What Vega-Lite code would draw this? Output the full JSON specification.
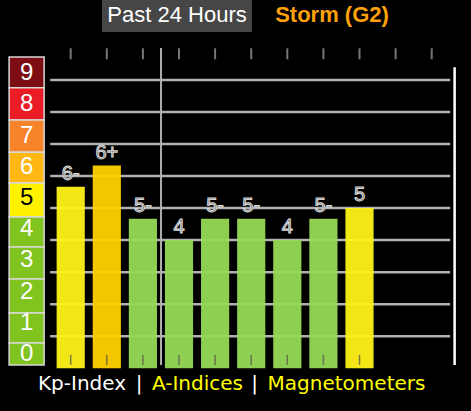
{
  "$schema": "https://vega.github.io/schema/vega-lite/v6.json",
  "background": "black",
  "padding": {"left": 8, "top": 0, "right": 16, "bottom": 18},
  "config": {"view": {"stroke": null}, "font": "Liberation Sans"},
  "datasets": {
    "kp": [
      {"slot": 1, "kp": 5.67, "label": "6-", "storm": "G1"},
      {"slot": 2, "kp": 6.33, "label": "6+", "storm": "G2"},
      {"slot": 3, "kp": 4.67, "label": "5-", "storm": "below G1"},
      {"slot": 4, "kp": 4.0, "label": "4", "storm": "below G1"},
      {"slot": 5, "kp": 4.67, "label": "5-", "storm": "below G1"},
      {"slot": 6, "kp": 4.67, "label": "5-", "storm": "below G1"},
      {"slot": 7, "kp": 4.0, "label": "4", "storm": "below G1"},
      {"slot": 8, "kp": 4.67, "label": "5-", "storm": "below G1"},
      {"slot": 9, "kp": 5.0, "label": "5", "storm": "G1"}
    ],
    "slots": [
      {"slot": 1}, {"slot": 2}, {"slot": 3}, {"slot": 4}, {"slot": 5}, {"slot": 6},
      {"slot": 7}, {"slot": 8}, {"slot": 9}, {"slot": 10}, {"slot": 11}
    ],
    "levels": [
      {"kp": 1}, {"kp": 2}, {"kp": 3}, {"kp": 4}, {"kp": 5},
      {"kp": 6}, {"kp": 7}, {"kp": 8}, {"kp": 9}
    ],
    "scale": [
      {"level": 9, "lo": 8.53, "hi": 9.52},
      {"level": 8, "lo": 7.5, "hi": 8.53},
      {"level": 7, "lo": 6.47, "hi": 7.5},
      {"level": 6, "lo": 5.48, "hi": 6.47},
      {"level": 5, "lo": 4.39, "hi": 5.48},
      {"level": 4, "lo": 3.43, "hi": 4.39},
      {"level": 3, "lo": 2.4, "hi": 3.43},
      {"level": 2, "lo": 1.31, "hi": 2.4},
      {"level": 1, "lo": 0.35, "hi": 1.31},
      {"level": 0, "lo": -0.35, "hi": 0.35}
    ],
    "head": [{"t": "Past 24 Hours"}, {"t": "Storm (G2)"}]
  },
  "spacing": 15,
  "vconcat": [
    {
      "width": 441,
      "height": 32,
      "data": {"name": "head"},
      "encoding": {
        "x": {"field": "t", "type": "nominal",
          "scale": {"domain": ["Past 24 Hours", "Storm (G2)"], "paddingInner": 0.0323, "paddingOuter": 0.4389, "align": 0.684},
          "axis": null}
      },
      "layer": [
        {"transform": [{"filter": {"field": "t", "equal": "Past 24 Hours"}}],
         "mark": {"type": "bar", "color": "#464646"}},
        {"transform": [{"filter": {"field": "t", "equal": "Past 24 Hours"}}],
         "mark": {"type": "text", "color": "white", "fontSize": 22, "font": "Liberation Sans", "baseline": "middle", "dy": -1},
         "encoding": {"text": {"field": "t"}}},
        {"transform": [{"filter": {"field": "t", "equal": "Storm (G2)"}}],
         "mark": {"type": "text", "color": "#ffa10a", "fontSize": 22, "fontWeight": "bold", "font": "Liberation Sans", "baseline": "middle", "dy": -1},
         "encoding": {"text": {"field": "t"}}}
      ]
    },
    {
      "spacing": 4,
      "center": true,
      "vconcat": [
        {
          "spacing": 6,
          "bounds": "flush",
          "resolve": {"scale": {"color": "independent"}},
          "hconcat": [
            {
              "width": 35,
              "height": 317,
              "data": {"name": "scale"},
              "layer": [
                {"mark": {"type": "rect", "stroke": "#d8d8d8", "strokeWidth": 1.5},
                 "encoding": {
                   "y": {"field": "lo", "type": "quantitative", "scale": {"domain": [-0.353, 9.808], "nice": false, "zero": false}, "axis": null},
                   "y2": {"field": "hi"},
                   "color": {"field": "level", "type": "ordinal",
                     "scale": {"domain": [0, 1, 2, 3, 4, 5, 6, 7, 8, 9],
                       "range": ["#81c41f", "#81c41f", "#81c41f", "#81c41f", "#81c41f", "#fff200", "#ffb813", "#f7842a", "#ea1c25", "#7c0d12"]},
                     "legend": null}
                 }},
                {"mark": {"type": "text", "fontSize": 24, "font": "Liberation Sans", "baseline": "middle"},
                 "encoding": {
                   "y": {"field": "level", "type": "quantitative", "axis": null},
                   "text": {"field": "level", "type": "quantitative"},
                   "color": {"condition": {"test": "datum.level === 5", "value": "black"}, "value": "white"}
                 }}
              ]
            },
            {
              "width": 400,
              "height": 317,
              "layer": [
                {
                  "data": {"name": "levels"},
                  "mark": {"type": "rule", "color": "#b0b0b0", "strokeWidth": 2.5},
                  "encoding": {
                    "y": {"field": "kp", "type": "quantitative",
                      "scale": {"domain": [0.1, 10], "nice": false, "zero": false},
                      "axis": null}
                  }
                },
                {
                  "data": {"name": "kp"},
                  "mark": {"type": "bar", "opacity": 0.95},
                  "encoding": {
                    "x": {"field": "slot", "type": "ordinal",
                      "scale": {"domain": [1, 2, 3, 4, 5, 6, 7, 8, 9, 10, 11], "paddingInner": 0.22, "paddingOuter": 0.15, "align": 0.6},
                      "axis": null},
                    "y": {"field": "kp", "type": "quantitative", "axis": null},
                    "color": {"field": "storm", "type": "nominal",
                      "scale": {"domain": ["below G1", "G1", "G2"], "range": ["#96d954", "#fff218", "#ffd200"]},
                      "legend": null}
                  }
                },
                {
                  "data": {"name": "kp"},
                  "mark": {"type": "tick", "orient": "vertical", "color": "#505050", "size": 10, "thickness": 1.5},
                  "encoding": {
                    "x": {"field": "slot", "type": "ordinal", "axis": null},
                    "y": {"datum": 0.26, "axis": null}
                  }
                },
                {
                  "data": {"name": "slots"},
                  "mark": {"type": "tick", "orient": "vertical", "color": "#a8a8a8", "size": 11, "thickness": 2},
                  "encoding": {
                    "x": {"field": "slot", "type": "ordinal", "axis": null},
                    "y": {"datum": 9.82, "axis": null}
                  }
                },
                {
                  "data": {"name": "kp"},
                  "mark": {"type": "text", "baseline": "alphabetic", "dy": -7, "fontSize": 20, "font": "Liberation Sans", "fill": "#666666", "stroke": "#d8d8d8", "strokeWidth": 1},
                  "encoding": {
                    "x": {"field": "slot", "type": "ordinal", "axis": null},
                    "y": {"field": "kp", "type": "quantitative", "axis": null},
                    "text": {"field": "label"}
                  }
                },
                {
                  "data": {"values": [{}]},
                  "mark": {"type": "rule", "color": "#b0b0b0", "strokeWidth": 2, "xOffset": -3.9},
                  "encoding": {
                    "x": {"datum": 4, "type": "ordinal", "bandPosition": 0, "axis": null},
                    "y": {"datum": 10, "axis": null},
                    "y2": {"datum": 0.1}
                  }
                },
                {
                  "data": {"values": [{}]},
                  "mark": {"type": "rule", "color": "white", "strokeWidth": 2.5, "xOffset": 4.5},
                  "encoding": {
                    "x": {"value": "width"},
                    "y": {"datum": 9.4, "axis": null},
                    "y2": {"datum": 0.1}
                  }
                }
              ]
            }
          ]
        },
        {
          "spacing": 0,
          "bounds": "flush",
          "hconcat": [
            {"width": 99, "height": 1, "data": {"values": [{"t": "Kp-Index"}]},
             "mark": {"type": "text", "font": "DejaVu Sans", "fontSize": 20, "color": "white", "baseline": "top"},
             "encoding": {"text": {"field": "t"}}},
            {"width": 15, "height": 1, "data": {"values": [{"t": "|"}]},
             "mark": {"type": "text", "font": "DejaVu Sans", "fontSize": 20, "color": "white", "baseline": "top"},
             "encoding": {"text": {"field": "t"}}},
            {"width": 102, "height": 1, "data": {"values": [{"t": "A-Indices"}]},
             "mark": {"type": "text", "font": "DejaVu Sans", "fontSize": 20, "color": "#ffff00", "baseline": "top"},
             "encoding": {"text": {"field": "t"}}},
            {"width": 12, "height": 1, "data": {"values": [{"t": "|"}]},
             "mark": {"type": "text", "font": "DejaVu Sans", "fontSize": 20, "color": "white", "baseline": "top"},
             "encoding": {"text": {"field": "t"}}},
            {"width": 172, "height": 1, "data": {"values": [{"t": "Magnetometers"}]},
             "mark": {"type": "text", "font": "DejaVu Sans", "fontSize": 20, "color": "#ffff00", "baseline": "top"},
             "encoding": {"text": {"field": "t"}}}
          ]
        }
      ]
    }
  ]
}
